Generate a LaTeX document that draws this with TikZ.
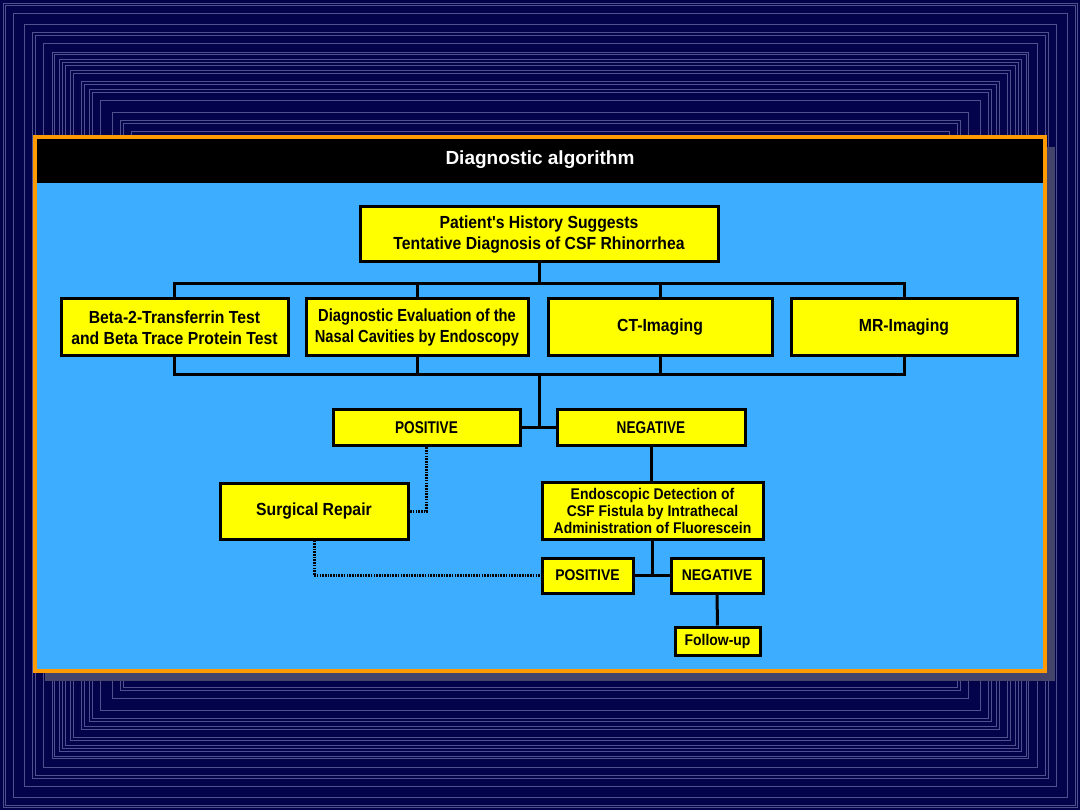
\documentclass[tikz,border=0pt]{standalone}
\usepackage{fontspec}
\newfontfamily\boxfont[FakeStretch=0.9]{Liberation Sans}
\newfontfamily\narrowfont[FakeStretch=0.84]{Liberation Sans}
\newfontfamily\capsfont[FakeStretch=0.8]{Liberation Sans}
\newfontfamily\headfont{Liberation Sans}
\definecolor{navy}{HTML}{03034C}
\definecolor{frameline}{HTML}{50508E}
\definecolor{skyblue}{HTML}{3DAEFF}
\definecolor{boxyellow}{HTML}{FFFF00}
\definecolor{panelorange}{HTML}{FF9A00}
\definecolor{shadowgray}{HTML}{45456C}
\newcommand\boxtext{\boxfont\bfseries\fontsize{17.5}{21.5}\selectfont}
\newcommand\narrowtext{\narrowfont\bfseries\fontsize{17.5}{21.5}\selectfont}
\newcommand\smalltext{\boxfont\bfseries\fontsize{15.5}{17}\selectfont}
\newcommand\capstext{\capsfont\bfseries\fontsize{17}{20}\selectfont}

\begin{document}
\begin{tikzpicture}[x=1pt, y=-1pt,
  ybox/.style={draw=black, line width=3pt, fill=boxyellow, align=center, inner sep=0pt, font=\boxtext},
  conn/.style={draw=black, line width=3pt},
  dotconn/.style={draw=black, line width=3pt, dash pattern=on 1.6pt off 1.1pt}]
% background with nested frames
\useasboundingbox (0,0) rectangle (1080,810);
\fill[navy] (0,0) rectangle (1080,810);
\foreach \d in {3,5,13,24,32,35,43,52,54,59,62,65,70,73,81,84,89,92,100,112,120,123,131}
  \draw[frameline, line width=0.9pt] (\d,\d) rectangle (1080-\d,810-\d);
% panel
\fill[shadowgray] (45,147) rectangle (1055,681);
\fill[skyblue] (35,137) rectangle (1045,671);
\fill[black] (35,137) rectangle (1045,183);
\draw[panelorange, line width=3.5pt] (35,137) rectangle (1045,671);
\node[text=white, font=\headfont\bfseries\fontsize{19}{22}\selectfont] (title) at (540,160) {Diagnostic algorithm};

% boxes
\node[ybox, minimum width=358, minimum height=55] (history) at (539,234.5) {Patient's History Suggests\\Tentative Diagnosis of CSF Rhinorrhea};
\node[ybox, minimum width=227, minimum height=57] (beta) at (174.5,327.5) {Beta-2-Transferrin Test\\and Beta Trace Protein Test};
\node[ybox, minimum width=222, minimum height=57, font=\narrowtext] (endo) at (417,327.5) {Diagnostic Evaluation of the\\Nasal Cavities by Endoscopy};
\node[ybox, minimum width=224, minimum height=57] (ct) at (660,327.5) {CT-Imaging};
\node[ybox, minimum width=226, minimum height=57] (mr) at (904,327.5) {MR-Imaging};
\node[ybox, minimum width=187, minimum height=36, font=\capstext] (pos1) at (426.5,428) {POSITIVE};
\node[ybox, minimum width=188, minimum height=36, font=\capstext] (neg1) at (651,428) {NEGATIVE};
\node[ybox, minimum width=188, minimum height=56] (surgery) at (314,511) {Surgical Repair};
\node[ybox, minimum width=221, minimum height=57, font=\smalltext] (fluo) at (652.5,510.5) {Endoscopic Detection of\\CSF Fistula by Intrathecal\\Administration of Fluorescein};
\node[ybox, minimum width=91, minimum height=35, font=\smalltext] (pos2) at (587.5,575.5) {POSITIVE};
\node[ybox, minimum width=92, minimum height=35, font=\smalltext] (neg2) at (717,575.5) {NEGATIVE};
\node[ybox, minimum width=85, minimum height=28, font=\smalltext] (followup) at (717.5,641) {Follow-up};

% connectors
\coordinate (hub) at (539,428);
\foreach \b in {beta,endo,ct,mr} {
  \draw[conn] (history.south) -- ++(0,20) -| (\b.north);
  \draw[conn] (\b.south) -- ++(0,17) -| (hub);
}
\draw[conn] (pos1.east) -- (neg1.west);
\draw[conn] (neg1.south) -- (neg1.south |- fluo.north);
\coordinate (hub2) at (fluo.south |- pos2.east);
\draw[conn] (fluo.south) -- (hub2);
\draw[conn] (pos2.east) -- (neg2.west);
\draw[conn] (neg2.south) -- (followup.north);
\draw[dotconn] (pos1.south) |- (surgery.east);
\draw[dotconn] (surgery.south) |- (pos2.west);
\end{tikzpicture}
\end{document}
